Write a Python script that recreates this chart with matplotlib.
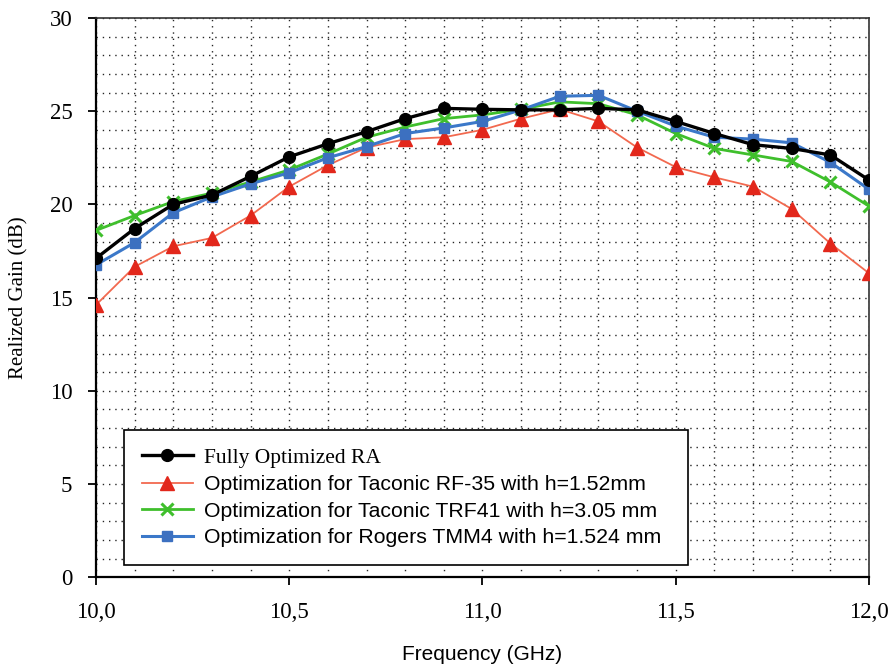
import numpy as np
import matplotlib
matplotlib.use('Agg')
import matplotlib.pyplot as plt
from matplotlib.ticker import MultipleLocator

# Data
freq = [10.0, 10.1, 10.2, 10.3, 10.4, 10.5, 10.6, 10.7, 10.8, 10.9, 11.0,
        11.1, 11.2, 11.3, 11.4, 11.5, 11.6, 11.7, 11.8, 11.9, 12.0]
gain_full = [17.1, 18.7, 20.0, 20.5, 21.5, 22.55, 23.25, 23.9, 24.6, 25.15, 25.1,
             25.07, 25.07, 25.15, 25.07, 24.45, 23.8, 23.2, 23.0, 22.65, 21.3]
gain_rf35 = [14.6, 16.65, 17.75, 18.2, 19.4, 20.95, 22.1, 23.05, 23.5, 23.6, 24.0,
             24.6, 25.1, 24.45, 23.05, 22.0, 21.45, 20.95, 19.75, 17.9, 16.3]
gain_trf41 = [18.6, 19.4, 20.15, 20.6, 21.2, 21.85, 22.7, 23.6, 24.15, 24.6, 24.8,
              25.1, 25.5, 25.4, 24.8, 23.8, 23.0, 22.65, 22.3, 21.2, 19.9]
gain_tmm4 = [16.75, 17.95, 19.55, 20.4, 21.1, 21.7, 22.5, 23.1, 23.8, 24.1, 24.45,
             25.07, 25.8, 25.85, 25.0, 24.2, 23.6, 23.5, 23.3, 22.25, 20.8]

labels = ['Fully Optimized RA',
          'Optimization for Taconic RF-35 with h=1.52mm',
          'Optimization for Taconic TRF41 with h=3.05 mm',
          'Optimization for Rogers TMM4 with h=1.524 mm']
xticks = [10.0, 10.5, 11.0, 11.5, 12.0]
xtick_labels = ['10,0', '10,5', '11,0', '11,5', '12,0']
yticks = [0, 5, 10, 15, 20, 25, 30]

serif = ['Liberation Serif', 'DejaVu Serif']
sans = ['Liberation Sans', 'DejaVu Sans']

fig = plt.figure(figsize=(8.96, 6.65), dpi=100)
ax = fig.add_axes([0.107, 0.132, 0.863, 0.841])

ax.plot(freq, gain_full, color='black', lw=2.4, marker='o', ms=8.5, zorder=5, label=labels[0])
ax.plot(freq, gain_rf35, color='#f2694f', lw=1.3, marker='^', ms=9.5,
        mfc='#e2271b', mec='#e2271b', zorder=4, label=labels[1])
ax.plot(freq, gain_trf41, color='#3fbf2c', lw=2.0, marker='x', ms=9, mew=2.2, zorder=4, label=labels[2])
ax.plot(freq, gain_tmm4, color='#3b78c9', lw=2.2, marker='s', ms=7.5,
        mfc='#3c70c0', mec='#3c70c0', zorder=4, label=labels[3])

ax.set_xlim(10.0, 12.0)
ax.set_ylim(0, 30)
ax.set_xticks(xticks)
ax.set_xticklabels(xtick_labels, family=serif, fontsize=16.5)
ax.set_yticks(yticks)
ax.set_yticklabels([str(v) for v in yticks], family=serif, fontsize=16.5)
ax.xaxis.set_minor_locator(MultipleLocator(0.1))
ax.yaxis.set_minor_locator(MultipleLocator(1))
ax.tick_params(which='minor', length=0)
ax.tick_params(axis='x', which='major', direction='out', length=6, width=1.3, pad=12)
ax.tick_params(axis='y', which='major', direction='out', length=6, width=1.3, pad=11)
ax.grid(which='both', color='black', linestyle=(0, (1, 3.5)), linewidth=1.0, alpha=0.85)
ax.set_axisbelow(True)

for side in ['left', 'bottom']:
    ax.spines[side].set_linewidth(1.6)
for side in ['top', 'right']:
    ax.spines[side].set_linewidth(1.2)
    ax.spines[side].set_color('#333333')

ax.set_xlabel('Frequency (GHz)', family=sans, fontsize=15, labelpad=16)
ax.set_ylabel('Realized Gain (dB)', family=serif, fontsize=15)
ax.yaxis.set_label_coords(-0.087, 0.5)

leg = ax.legend(loc='lower left', bbox_to_anchor=(0.0362, 0.0215, 0.7296, 0.24), mode='expand',
                fancybox=False, edgecolor='black', framealpha=1, handlelength=2.4,
                handletextpad=0.5, borderpad=0.85, borderaxespad=0, labelspacing=0.35,
                prop={'family': sans, 'size': 15.3})
leg.get_frame().set_linewidth(1.2)
leg.get_texts()[0].set_family(serif)
leg.get_texts()[0].set_fontsize(15.5)
leg.set_zorder(10)

fig.savefig('out.png', dpi=100)
